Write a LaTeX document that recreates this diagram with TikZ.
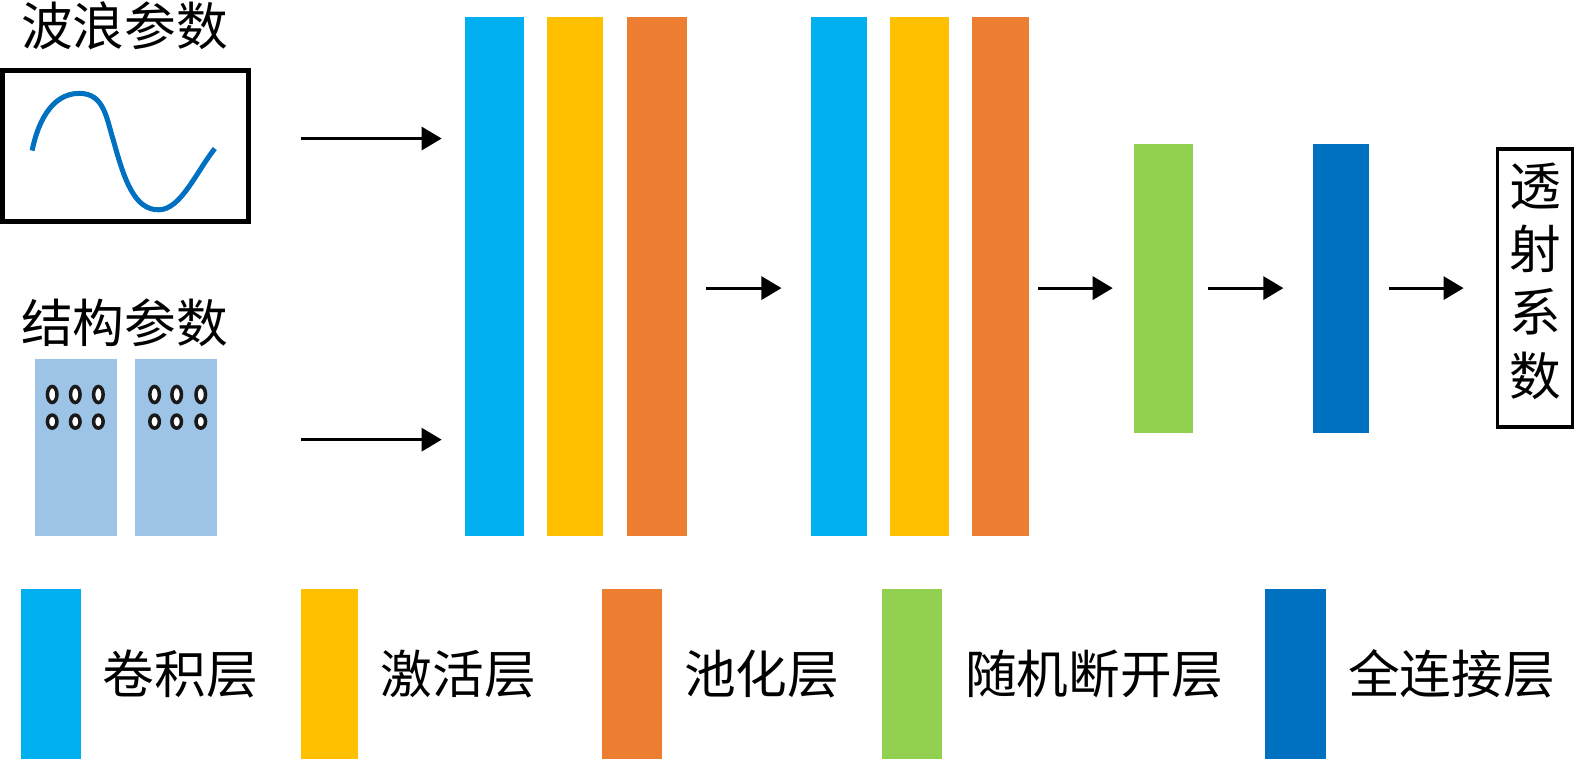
\documentclass[tikz,border=0pt]{standalone}
\usepackage{fontspec}
\usepackage{xcolor}
\usepackage{tikz}
\usetikzlibrary{shapes,arrows,arrows.meta}
\usetikzlibrary{positioning}
\newfontfamily\cjk{Noto Sans CJK SC}
\definecolor{convblue}{HTML}{00B0F0}
\definecolor{actyellow}{HTML}{FFC000}
\definecolor{poolorange}{HTML}{ED7D31}
\definecolor{dropgreen}{HTML}{92D050}
\definecolor{densblue}{HTML}{0070C0}
\definecolor{panelblue}{HTML}{9DC3E6}
\tikzstyle{layer} = [rectangle, inner sep=0bp, outer sep=0bp, minimum height=517bp]
\tikzstyle{small} = [rectangle, inner sep=0bp, outer sep=0bp, minimum height=288bp]
\tikzstyle{key} = [rectangle, inner sep=0bp, outer sep=0bp, minimum height=169bp]
\tikzstyle{panel} = [rectangle, fill=panelblue, inner sep=0bp, outer sep=0bp, minimum width=81.5bp, minimum height=176bp]
\tikzstyle{label} = [inner sep=0bp, outer sep=0bp, font=\cjk\fontsize{51.5bp}{52bp}\selectfont]
\tikzstyle{line} = [draw, line width=3bp, -{Triangle[length=20bp,width=23bp]}]
\tikzstyle{hole} = [ellipse, draw=black!90, line width=3.5bp, fill=white, inner sep=0bp, minimum width=9.5bp]

\begin{document}
\begin{tikzpicture}[x=1bp,y=1bp]
    \useasboundingbox (0,0) rectangle (1569,-758);
    % Place nodes
    \node [layer, fill=convblue, minimum width=59bp, anchor=north west] (conv1) at (463,-17) {};
    \node [layer, fill=actyellow, minimum width=56bp, right=23bp of conv1] (act1) {};
    \node [layer, fill=poolorange, minimum width=59.5bp, right=23.5bp of act1] (pool1) {};
    \node [layer, fill=convblue, minimum width=56bp, right=123.5bp of pool1] (conv2) {};
    \node [layer, fill=actyellow, minimum width=59bp, right=23bp of conv2] (act2) {};
    \node [layer, fill=poolorange, minimum width=57bp, right=23bp of act2] (pool2) {};
    \node [small, fill=dropgreen, minimum width=59bp, anchor=north west] (drop) at (1129.5,-143) {};
    \node [small, fill=densblue, minimum width=56bp, right=119bp of drop] (dense) {};
    \node [rectangle, draw, line width=3.5bp, inner sep=0bp, minimum width=74.5bp, minimum height=277bp, align=center,
        font=\cjk\fontsize{51.5bp}{63bp}\selectfont, right=126.5bp of dense] (output) {透\\射\\系\\数\rule[-18bp]{0bp}{0bp}};
    % Wave input
    \node [rectangle, draw, line width=5bp, inner sep=0bp, minimum width=245bp, minimum height=150bp, anchor=north west] (wave) at (0,-68) {};
    \node [label] (wavetitle) at (124,-26) {波浪参数};
    \draw [densblue, line width=5bp] (32,-150) .. controls (37,-125) and (50,-93) .. (79,-93)
        .. controls (104,-93) and (106,-118) .. (113,-140)
        .. controls (124,-180) and (134,-209) .. (158,-209)
        .. controls (180,-209) and (195,-172) .. (214,-148);
    % Structure input
    \node [label] (structtitle) at (124,-322) {结构参数};
    \node [panel, anchor=north west] (panela) at (35,-358) {};
    \node [panel, right=18bp of panela] (panelb) {};
    \foreach \x in {52,75,98,154,176,200} {
        \node [hole, minimum height=16bp] (holetop\x) at (\x,-393) {};
        \node [hole, minimum height=13bp] (holebot\x) at (\x,-420) {};
    }
    \coordinate (wavefrom) at (300,-138);
    \coordinate (waveto) at (440,-138);
    \coordinate (structfrom) at (300,-438);
    \coordinate (structto) at (440,-438);
    % Legend
    \node [key, fill=convblue, minimum width=60bp, anchor=north west] (key1) at (21,-587) {};
    \node [label, right=21.5bp of key1] (text1) {卷积层};
    \node [key, fill=actyellow, minimum width=56.5bp, anchor=north west] (key2) at (300,-587) {};
    \node [label, right=23bp of key2] (text2) {激活层};
    \node [key, fill=poolorange, minimum width=59bp, anchor=north west] (key3) at (600,-587) {};
    \node [label, right=22.5bp of key3] (text3) {池化层};
    \node [key, fill=dropgreen, minimum width=60bp, anchor=north west] (key4) at (878.5,-587) {};
    \node [label, right=23bp of key4] (text4) {随机断开层};
    \node [key, fill=densblue, minimum width=60bp, anchor=north west] (key5) at (1260.5,-587) {};
    \node [label, right=22.5bp of key5] (text5) {全连接层};
    % Draw edges
    \path [line] (wavefrom) -- (waveto);
    \path [line] (structfrom) -- (structto);
    \path [line, shorten <=19bp, shorten >=29bp] (pool1.east |- drop.center) -- (conv2.west |- drop.center);
    \path [line, shorten <=9bp, shorten >=21bp] (pool2.east |- drop.center) -- (drop.west);
    \path [line, shorten <=15bp, shorten >=29bp] (drop) -- (dense);
    \path [line, shorten <=20bp, shorten >=32bp] (dense) -- (output);
\end{tikzpicture}
\end{document}
